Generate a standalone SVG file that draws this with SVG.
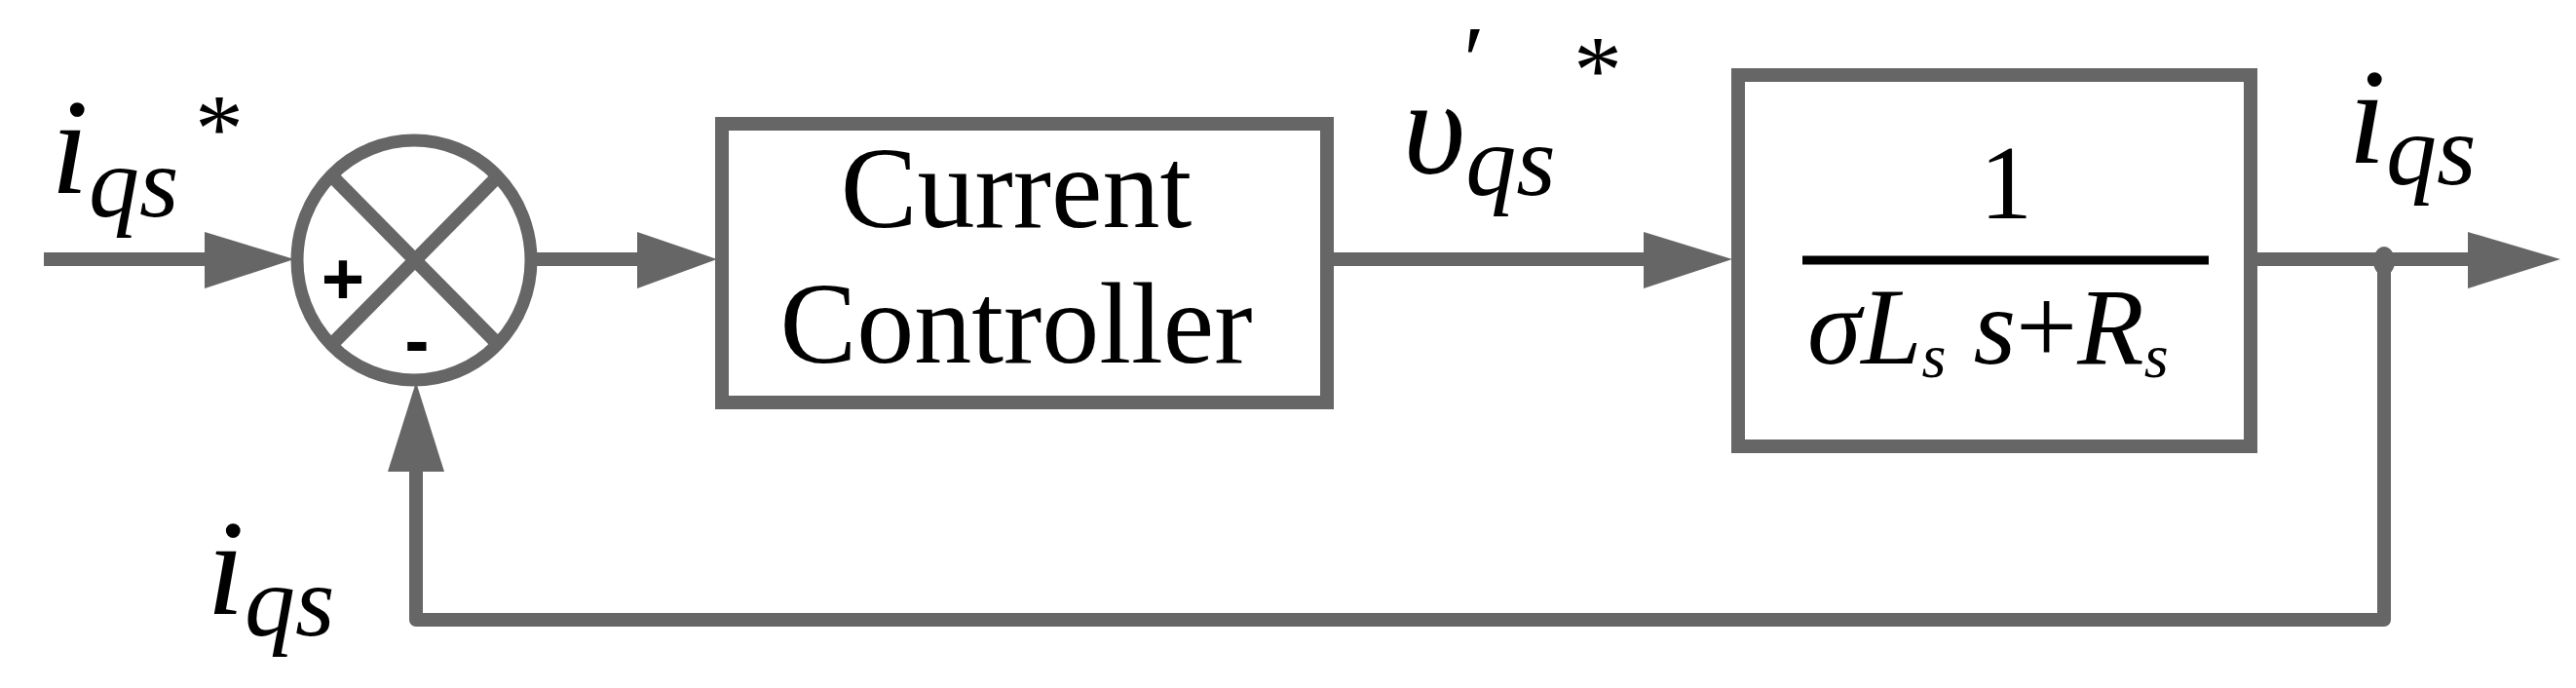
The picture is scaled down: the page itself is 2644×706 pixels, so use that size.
<svg xmlns="http://www.w3.org/2000/svg" width="2644" height="706" viewBox="0 0 2644 706">
<style>
.ln{stroke:#666;stroke-width:14;fill:none}
.bx{stroke:#666;stroke-width:14;fill:#fff}
.ah{fill:#666}
.m{font-family:"Liberation Serif",serif;font-style:italic;fill:#000}
.t{font-family:"Liberation Serif",serif;fill:#000}
.s{font-family:"Liberation Sans",sans-serif;fill:#000}
</style>
<rect width="2644" height="706" fill="#fff"/>
<g id="connectors">
<line class="ln" x1="45" y1="266" x2="215" y2="266"/>
<polygon class="ah" points="210,238 302,266 210,296"/>
<line class="ln" x1="546" y1="266" x2="660" y2="266"/>
<polygon class="ah" points="654,238 736,266 654,296"/>
<line class="ln" x1="1368" y1="266" x2="1692" y2="266"/>
<polygon class="ah" points="1687,238 1778,266 1687,296"/>
<line class="ln" x1="2316" y1="266" x2="2540" y2="266"/>
<polygon class="ah" points="2533,238 2628,266 2533,296"/>
<ellipse cx="2447" cy="268" rx="11" ry="15" fill="#666"/>
<polyline class="ln" points="2447,266 2447,636 427,636 427,478" stroke-linejoin="round"/>
<polygon class="ah" points="398,484 427,392 456,484"/>
</g>
<g id="sum">
<ellipse cx="425" cy="267" rx="120" ry="123" fill="#fff" stroke="#666" stroke-width="13"/>
<line class="ln" x1="342" y1="182" x2="510" y2="352"/>
<line class="ln" x1="510" y1="182" x2="342" y2="352"/>
<text class="s" x="352" y="312" font-size="76" text-anchor="middle" font-weight="bold">+</text>
<text class="s" x="428" y="375" font-size="76" text-anchor="middle" font-weight="bold">-</text>
</g>
<g id="controller">
<rect class="bx" x="741" y="127" width="621" height="286"/>
<text class="t" x="1043" y="233" font-size="118" text-anchor="middle">Current</text>
<text class="t" x="1043" y="372" font-size="118" text-anchor="middle">Controller</text>
</g>
<g id="plant">
<rect class="bx" x="1784" y="77" width="526" height="381"/>
<text class="t" x="2059" y="224" font-size="108" text-anchor="middle">1</text>
<line x1="1850" y1="267" x2="2267" y2="267" stroke="#000" stroke-width="9"/>
<text class="m" x="1855" y="373" font-size="112">σ<tspan>L</tspan><tspan font-size="64" dy="14">s</tspan><tspan dy="-14"> s</tspan><tspan font-style="normal">+</tspan>R<tspan font-size="64" dy="14">s</tspan></text>
</g>
<g id="labels">
<text class="m" x="52" y="198" font-size="140">i<tspan font-size="104" dy="24">qs</tspan></text>
<text class="t" x="200" y="165" font-size="100">*</text>
<text class="m" x="212" y="630" font-size="140">i<tspan font-size="104" dy="22">qs</tspan></text>
<text class="m" x="1440" y="178" font-size="140">υ<tspan font-size="104" dy="22">qs</tspan></text>
<text class="t" x="1502" y="95" font-size="100">′</text>
<text class="t" x="1615" y="105" font-size="100">*</text>
<text class="m" x="2410" y="167" font-size="140">i<tspan font-size="104" dy="22">qs</tspan></text>
</g>
</svg>
